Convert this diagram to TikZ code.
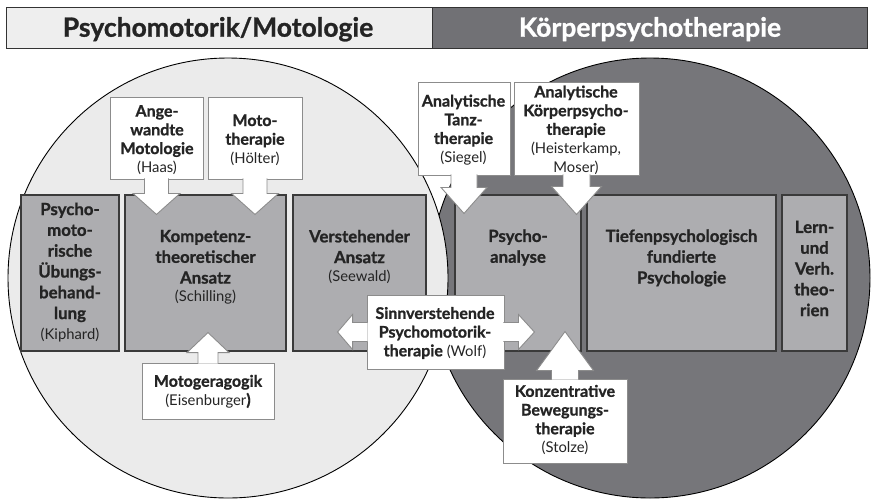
\documentclass[tikz,border=0pt]{standalone}
\usepackage{fontspec}
\setmainfont{Lato}[BoldFeatures={FakeBold=1}]
\usetikzlibrary{calc}
\definecolor{lightbg}{HTML}{EBEBEB}
\definecolor{headlight}{HTML}{EEEEEE}
\definecolor{darkbg}{HTML}{76767A}
\definecolor{headdark}{HTML}{717175}
\definecolor{boxfill}{HTML}{ADADB0}
\definecolor{boxline}{HTML}{3A3A3A}
\definecolor{wline}{HTML}{8C8C8C}
\definecolor{txt}{HTML}{242424}
\newcommand\au[1]{{\mdseries\fontsize{14.8}{20}\selectfont #1}}
\newcommand\ArrowDown[5]{\filldraw[blockarrow] ($(#1.south)+(-#2,-1)$) -- ++(0,#4+1) -- ++(#2-#3,0) -- ($(#1.south)+(0,#4+#5)$) -- ($(#1.south)+(#3,#4)$) -- ++(#2-#3,0) -- ++(0,-#4-1);}
\newcommand\ArrowUp[5]{\filldraw[blockarrow] ($(#1.north)+(-#2,1)$) -- ++(0,-#4-1) -- ++(#2-#3,0) -- ($(#1.north)+(0,-#4-#5)$) -- ($(#1.north)+(#3,-#4)$) -- ++(#2-#3,0) -- ++(0,#4+1);}
\newcommand\ArrowLeft[5]{\filldraw[blockarrow] ($(#1.west)+(1,-#2)$) -- ++(-#4-1,0) -- ++(0,#2-#3) -- ($(#1.west)+(-#4-#5,0)$) -- ($(#1.west)+(-#4,#3)$) -- ++(0,#2-#3) -- ++(#4+1,0);}
\newcommand\ArrowRight[5]{\filldraw[blockarrow] ($(#1.east)+(-1,-#2)$) -- ++(#4+1,0) -- ++(0,#2-#3) -- ($(#1.east)+(#4+#5,0)$) -- ($(#1.east)+(#4,#3)$) -- ++(0,#2-#3) -- ++(-#4-1,0);}
\begin{document}
\begin{tikzpicture}[x=1pt,y=-1pt,
 header/.style={draw=black!80, line width=0.9pt, inner sep=0pt, minimum height=41pt},
 headtext/.style={anchor=base, inner sep=0pt, font=\bfseries\fontsize{26.5}{30}\selectfont},
 mainbox/.style={draw=boxline, line width=1.4pt, fill=boxfill, inner sep=0pt},
 whitebox/.style={draw=wline, line width=0.9pt, fill=white, inner sep=0pt},
 bt/.style={align=center, inner sep=0pt, text=txt, font=\bfseries\fontsize{16.8}{20.8}\selectfont},
 wt/.style={align=center, inner sep=0pt, text=txt, font=\bfseries\fontsize{16}{18.7}\selectfont},
 blockarrow/.style={draw=wline, line width=0.9pt, fill=white, line join=miter},
 circ/.style={draw=black, line width=0.9pt, circle, inner sep=0pt, minimum size=440pt},
]
\useasboundingbox (0,0) rectangle (873,499);
% header
\node[header, fill=headlight, minimum width=426pt] (hl) at (219,27.5) {};
\node[header, fill=headdark, minimum width=435pt] (hr) at (649.5,27.5) {};
\node[headtext, text=txt] (hlT) at (218,36.7) {Psychomotorik/Motologie};
\node[headtext, text=white] (hrT) at (650,36.7) {Körperpsychotherapie};
% circles
\node[circ, fill=darkbg] (cr) at (650,278) {};
\node[circ, fill=lightbg] (cl) at (228,278) {};
% main boxes
\node[mainbox, minimum width=98pt, minimum height=156pt] (psy) at (70,273) {};
\node[mainbox, minimum width=161pt, minimum height=156pt] (komp) at (205.5,273) {};
\node[mainbox, minimum width=133pt, minimum height=156pt] (verst) at (359.5,273) {};
\node[mainbox, minimum width=126pt, minimum height=156pt] (psa) at (518,273) {};
\node[mainbox, minimum width=189pt, minimum height=156pt] (tief) at (681.5,273) {};
\node[mainbox, minimum width=65pt, minimum height=156pt] (lern) at (814.5,273) {};
\node[bt] (psyT) at (70,272.5) {Psycho-\\moto-\\rische\\Übungs-\\behand-\\lung\\\au{(Kiphard)}};
\node[bt] (kompT) at (205.5,267) {Kompetenz-\\theoretischer\\Ansatz\\[-3pt]\au{(Schilling)}};
\node[bt] (verstT) at (359.5,257) {Verstehender\\Ansatz\\[-2pt]\au{(Seewald)}};
\node[bt] (psaT) at (518,247.5) {Psycho-\\analyse};
\node[bt] (tiefT) at (681.5,258) {Tiefenpsychologisch\\fundierte\\Psychologie};
\node[bt] (lernT) at (814.5,268.5) {Lern-\\und\\Verh.\\theo-\\rien};
% upper white boxes
\node[whitebox, minimum width=93pt, minimum height=82pt] (angew) at (156.5,138) {};
\node[whitebox, minimum width=94pt, minimum height=82pt] (moto) at (255,138) {};
\node[whitebox, minimum width=92pt, minimum height=93pt] (tanz) at (464,128.5) {};
\node[whitebox, minimum width=125pt, minimum height=93pt] (koerp) at (576.5,128.5) {};
\node[wt] (angewT) at (157,140) {Ange-\\wandte\\Motologie\\\au{(Haas)}};
\node[wt] (motoT) at (255,140) {Moto-\\therapie\\\au{(Hölter)}};
\node[wt] (tanzT) at (463.5,130) {Analytische\\Tanz-\\therapie\\\au{(Siegel)}};
\node[wt] (koerpT) at (576,130) {Analytische\\Körperpsycho-\\therapie\\\au{(Heisterkamp,}\\\au{Moser)}};
\ArrowDown{angew}{12}{23.5}{14}{21}
\ArrowDown{moto}{12}{23.5}{14}{21}
\ArrowDown{tanz}{13}{23}{12}{26}
\ArrowDown{koerp}{13.5}{25}{11}{28}
% Sinnverstehende
\node[whitebox, minimum width=137pt, minimum height=74pt] (sinn) at (435.5,332) {};
\node[wt] (sinnT) at (435,333) {Sinnverstehende\\Psychomotorik-\\therapie \au{(Wolf)}};
\ArrowLeft{sinn}{9.5}{17.5}{14}{15}
\ArrowRight{sinn}{9.5}{17.5}{14}{16}
% Motogeragogik
\node[whitebox, minimum width=132pt, minimum height=56pt] (motog) at (208,391) {};
\node[wt] (motogT) at (208,391.5) {Motogeragogik\\\au{(Eisenburger})};
\ArrowUp{motog}{10}{21}{10}{20}
% Konzentrative
\node[whitebox, minimum width=124pt, minimum height=84pt] (konz) at (565,421) {};
\node[wt] (konzT) at (565,420) {Konzentrative\\Bewegungs-\\therapie\\\au{(Stolze)}};
\ArrowUp{konz}{13.5}{28.5}{8}{39}
\end{tikzpicture}
\end{document}
